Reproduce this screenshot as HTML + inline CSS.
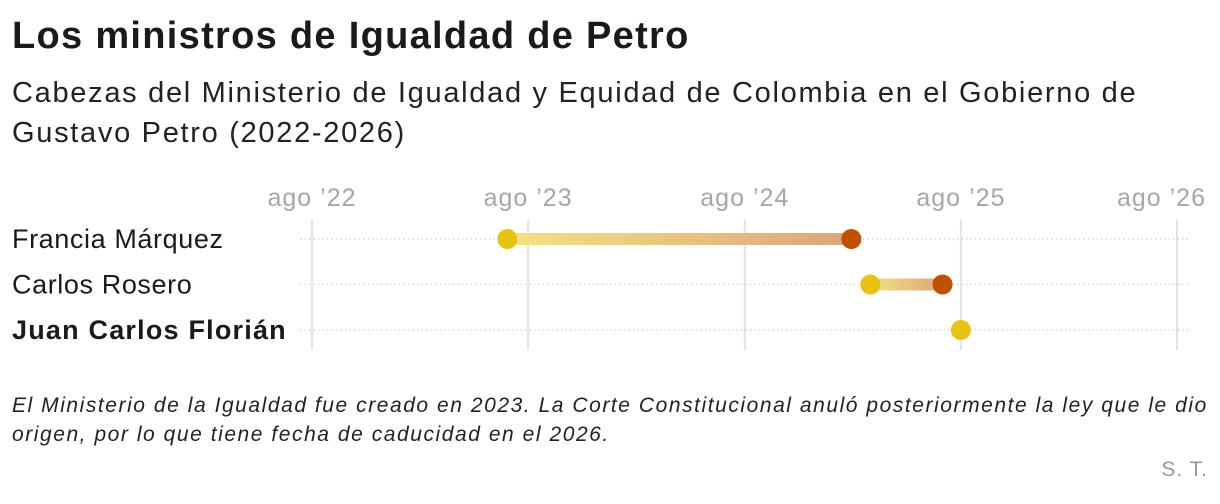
<!DOCTYPE html>
<html><head><meta charset="utf-8"><style>
body{margin:0;width:1220px;height:504px;background:#fff;font-family:"Liberation Sans",sans-serif;color:#1a1a1a;position:relative;overflow:hidden}
h1{position:absolute;left:12px;top:15px;margin:0;font-size:38px;font-weight:bold;letter-spacing:1.3px;white-space:nowrap}
.sub{position:absolute;left:12px;top:73px;margin:0;font-size:29px;line-height:40px;color:#222;letter-spacing:1.7px;white-space:nowrap}
.note{position:absolute;left:12px;top:391px;font-size:21px;font-style:italic;line-height:29px;color:#222;letter-spacing:1.55px;white-space:nowrap}
.src{position:absolute;right:12px;top:458px;font-size:21px;color:#999;letter-spacing:1px}
svg{position:absolute;left:0;top:0}
</style></head><body>
<h1>Los ministros de Igualdad de Petro</h1>
<p class="sub">Cabezas del Ministerio de Igualdad y Equidad de Colombia en el Gobierno de<br>Gustavo Petro (2022-2026)</p>
<svg id="chart" width="1220" height="504">
<defs><linearGradient id="g" x1="0" x2="1" y1="0" y2="0"><stop offset="0" stop-color="#f3e187"/><stop offset="1" stop-color="#dca57c"/></linearGradient></defs>
</svg>
<div class="note">El Ministerio de la Igualdad fue creado en 2023. La Corte Constitucional anuló posteriormente la ley que le dio<br>origen, por lo que tiene fecha de caducidad en el 2026.</div>
<div class="src">S. T.</div>
<script>
const names=["Francia Márquez","Carlos Rosero","Juan Carlos Florián"];
const starts=["2023-06-27","2025-03-01","2025-08-01"];
const ends=["2025-01-28","2025-07-01",null];
const tickDates=["2022-08-01","2023-08-01","2024-08-01","2025-08-01","2026-08-01"];
const tickLabels=["ago ’22","ago ’23","ago ’24","ago ’25","ago ’26"];
const svg=document.getElementById('chart');const NS="http://www.w3.org/2000/svg";
const t0=Date.parse("2022-08-01"),t1=Date.parse("2026-08-01");
const x=d=>312+(Date.parse(d)-t0)/(t1-t0)*865;
const y=i=>239+i*45.5;
function mk(tag,a){const e=document.createElementNS(NS,tag);for(const k in a)e.setAttribute(k,a[k]);svg.appendChild(e);return e;}
tickDates.forEach((d,i)=>{
 const l=mk('line',{x1:x(d),x2:x(d),y1:220,y2:350,stroke:'#e3e3e3','stroke-width':2});
 
 
 const last=i==tickDates.length-1;
 const t=mk('text',{x:last?1206:x(d),y:206,'text-anchor':last?'end':'middle','font-size':25,'letter-spacing':1,fill:'#a6a6a6'});t.textContent=tickLabels[i];
 
 
});
names.forEach((n,i)=>{
 const g=mk('line',{x1:300,x2:1190,y1:y(i),y2:y(i),stroke:'#d4d4d4','stroke-width':1.5,'stroke-dasharray':'1.5 3'});
 
 
 const t=mk('text',{x:12,y:y(i)+9,'font-size':27,'letter-spacing':i==2?1.2:0.6,fill:'#1a1a1a','font-weight':i==2?'bold':'normal'});t.textContent=n;
 
 
 if(ends[i]){
  const b=mk('rect',{x:x(starts[i]),y:y(i)-6,width:x(ends[i])-x(starts[i]),height:12,fill:'url(#g)'});
  
  
  const e=mk('circle',{cx:x(ends[i]),cy:y(i),r:10,fill:'#bd5300'});
  
  
 }
 const s=mk('circle',{cx:x(starts[i]),cy:y(i),r:10,fill:'#e8c313'});
 
 
});
</script>
</body></html>
